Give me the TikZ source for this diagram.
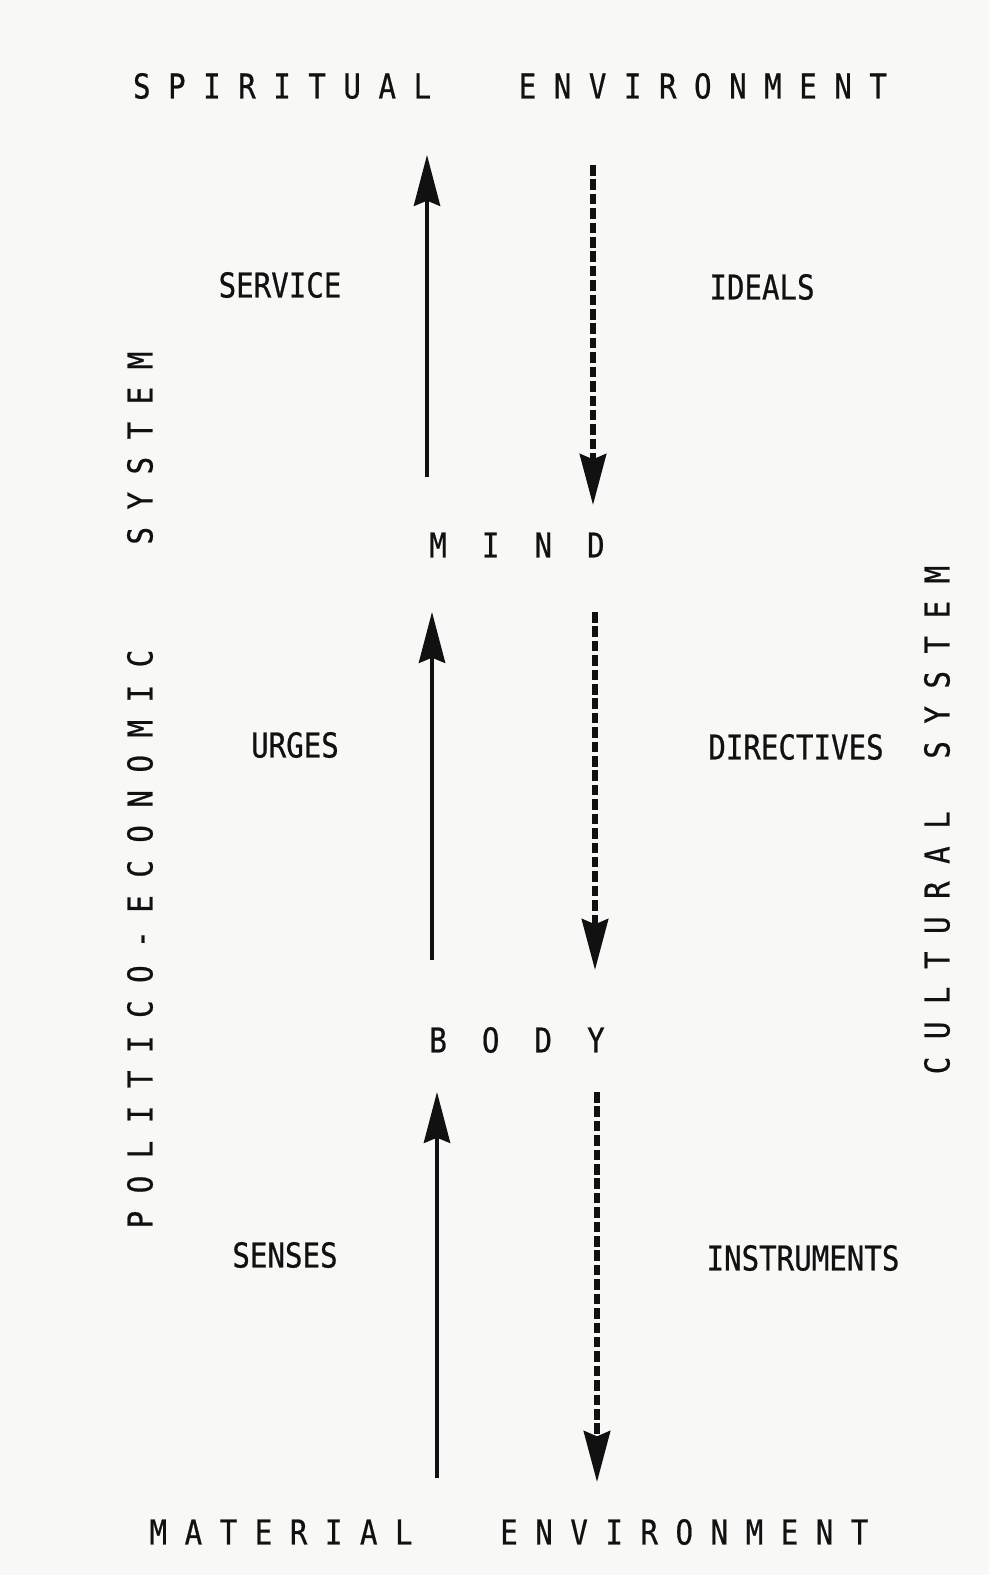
\documentclass[tikz,border=0pt]{standalone}
\usepackage{fontspec}
\usetikzlibrary{arrows.meta}
\newfontfamily\typer[FakeStretch=0.85, FakeBold=0.6]{DejaVu Sans Mono}
\definecolor{cPaper}{HTML}{F8F8F6}
\definecolor{cInk}{HTML}{111111}

\begin{document}
\begin{tikzpicture}[
  x=0.02cm, y=-0.02cm,
  font=\typer\fontsize{19.5}{22}\selectfont,
  lbl/.style      = {inner sep=0pt, text=cInk},
  upflow/.style   = {-{Stealth[length=29pt, width=15pt, inset=3pt]},
                     line width=2pt, draw=cInk},
  downflow/.style = {upflow, line width=3pt, dash pattern=on 6pt off 2.2pt}]

% ---- paper -----------------------------------------------------------------
\fill[cPaper] (0,0) rectangle (989,1575);
\useasboundingbox (0,0) rectangle (989,1575);

% ---- the two environments and the two levels -------------------------------
\node[lbl] (spirit) at (510,86)
  {S~P~I~R~I~T~U~A~L~~~~~E~N~V~I~R~O~N~M~E~N~T};
\node[lbl] (matter) at (509,1532)
  {M~A~T~E~R~I~A~L~~~~~E~N~V~I~R~O~N~M~E~N~T};
\node[lbl] (mind) at (517,545) {M~~I~~N~~D};
\node[lbl] (body) at (517,1040) {B~~O~~D~~Y};

% ---- side systems ----------------------------------------------------------
\node[lbl, rotate=90] (polsys) at (140,790)
  {P~O~L~I~T~I~C~O~-~E~C~O~N~O~M~I~C~~~~~~S~Y~S~T~E~M};
\node[lbl, rotate=90] (cultsys) at (937,820)
  {C~U~L~T~U~R~A~L~~~S~Y~S~T~E~M};

% ---- flow labels -----------------------------------------------------------
\node[lbl] (service)    at (280,285)  {SERVICE};
\node[lbl] (ideals)     at (762,287)  {IDEALS};
\node[lbl] (urges)      at (295,745)  {URGES};
\node[lbl] (directives) at (796,747)  {DIRECTIVES};
\node[lbl] (senses)     at (285,1255) {SENSES};
\node[lbl] (instr)      at (803,1258) {INSTRUMENTS};

% arrow ends
\coordinate (serviceLow)     at (427,477);
\coordinate (serviceHigh)    at (427,155);
\coordinate (idealsHigh)     at (593,165);
\coordinate (idealsLow)      at (593,505);
\coordinate (urgesLow)       at (432,960);
\coordinate (urgesHigh)      at (432,612);
\coordinate (directivesHigh) at (595,612);
\coordinate (directivesLow)  at (595,970);
\coordinate (sensesLow)      at (437,1478);
\coordinate (sensesHigh)     at (437,1092);
\coordinate (instrHigh)      at (597,1092);
\coordinate (instrLow)       at (597,1482);

% upward (solid) and downward (dashed) flows
\draw[upflow]   (serviceLow) -- (serviceHigh);
\draw[downflow] (idealsHigh) -- (idealsLow);
\draw[upflow]   (urgesLow) -- (urgesHigh);
\draw[downflow] (directivesHigh) -- (directivesLow);
\draw[upflow]   (sensesLow) -- (sensesHigh);
\draw[downflow] (instrHigh) -- (instrLow);

\end{tikzpicture}
\end{document}
